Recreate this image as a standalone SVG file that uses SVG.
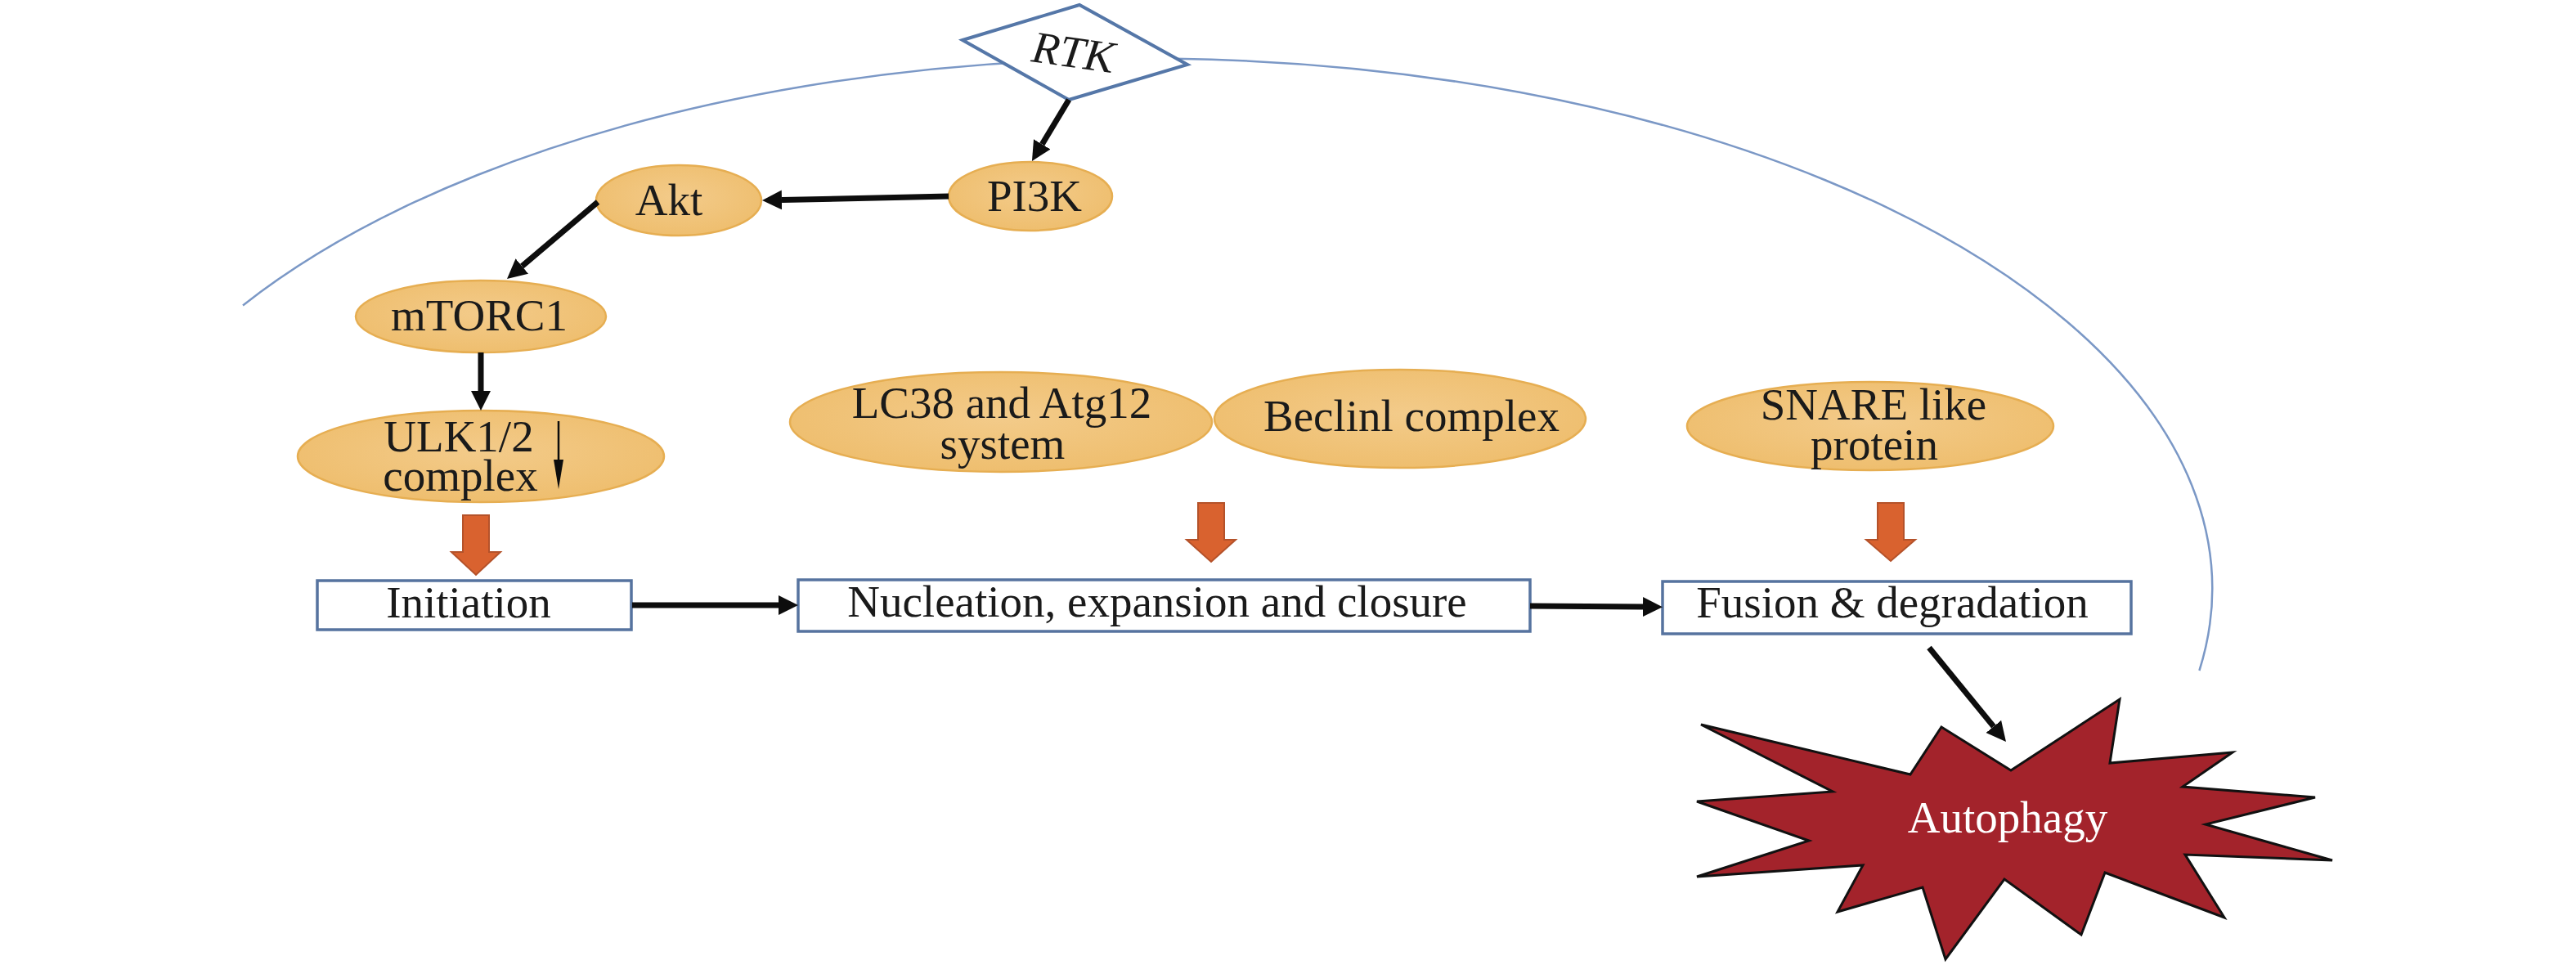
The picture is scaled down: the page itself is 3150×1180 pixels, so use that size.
<svg xmlns="http://www.w3.org/2000/svg" width="3150" height="1180" viewBox="0 0 3150 1180">
<style>
.t{font-family:"Liberation Serif","Times New Roman",serif;font-size:55px;fill:#1a1a1a;text-anchor:middle}
.el{fill:url(#eg);stroke:#E6AE52;stroke-width:2.5}
.box{fill:#fff;stroke:#56739F;stroke-width:3.5}
.con{stroke:#0d0d0d;fill:none;stroke-width:7;marker-end:url(#ah)}
.blk{fill:#D9622F;stroke:#B4522A;stroke-width:2}
</style>
<defs>
<radialGradient id="eg" cx="0.5" cy="0.45" r="0.6">
<stop offset="0" stop-color="#F3CB8A"/>
<stop offset="1" stop-color="#EEBD6C"/>
</radialGradient>
<marker id="ah" markerUnits="userSpaceOnUse" viewBox="0 0 26 26" markerWidth="26" markerHeight="26" refX="0" refY="13" orient="auto">
<path d="M0,1 L24,13 L0,25 Z" fill="#0d0d0d"/>
</marker>
</defs>
<rect width="3150" height="1180" fill="#fff"/>
<path id="membrane" d="M297,373.4 A1305,648 0 0 1 2689.4,820" fill="none" stroke="#7B98C6" stroke-width="2.5"/>
<g id="rtk">
<polygon points="1177,49 1320,6 1452,79 1307,122" fill="#fff" stroke="#5577A8" stroke-width="4"/>
<text class="t" font-style="italic" font-size="52" transform="translate(1310,82) rotate(8)" x="0" y="0">RTK</text>
</g>
<g id="pi3k"><ellipse class="el" cx="1260" cy="240" rx="100" ry="42"/><text class="t" x="1265" y="258">PI3K</text></g>
<g id="akt"><ellipse class="el" cx="830" cy="245" rx="101" ry="43"/><text class="t" x="818" y="263">Akt</text></g>
<g id="mtorc1"><ellipse class="el" cx="588" cy="387" rx="153" ry="44"/><text class="t" x="586" y="404">mTORC1</text></g>
<g id="ulk"><ellipse class="el" cx="588" cy="558" rx="224" ry="56"/><text class="t" x="561" y="552">ULK1/2</text><text class="t" x="563" y="600">complex</text>
<line x1="683" y1="515" x2="683" y2="566" stroke="#0d0d0d" stroke-width="2.5"/><polygon points="677,562 689,562 683,598" fill="#0d0d0d"/></g>
<g id="lc38"><ellipse class="el" cx="1224" cy="516" rx="258" ry="61"/><text class="t" x="1225" y="511">LC38 and Atg12</text><text class="t" x="1226" y="561">system</text></g>
<g id="beclin"><ellipse class="el" cx="1712" cy="512" rx="227" ry="60"/><text class="t" x="1726" y="527">Beclinl complex</text></g>
<g id="snare"><ellipse class="el" cx="2287" cy="521" rx="224" ry="54"/><text class="t" x="2291" y="513">SNARE like</text><text class="t" x="2292" y="562">protein</text></g>
<g id="initiation"><rect class="box" x="388" y="710" width="384" height="60"/><text class="t" x="573" y="755">Initiation</text></g>
<g id="nucleation"><rect class="box" x="976" y="709" width="895" height="63"/><text class="t" x="1415" y="754">Nucleation, expansion and closure</text></g>
<g id="fusion"><rect class="box" x="2033" y="711" width="573" height="64"/><text class="t" x="2314" y="755">Fusion &amp; degradation</text></g>
<g id="autophagy">
<polygon points="2080,886 2336,947 2374,889 2459,942 2592,855 2580,933 2730,920 2669,962 2831,975 2697,1008 2852,1052 2672,1045 2720,1122 2574,1067 2545,1143 2451,1075 2379,1173 2351,1085 2247,1115 2278,1058 2075,1072 2212,1028 2075,980 2241,968" fill="#A3232B" stroke="#111" stroke-width="3" stroke-linejoin="miter"/>
<text class="t" x="2455" y="1018" style="fill:#fff">Autophagy</text>
</g>
<g id="connectors">
<line class="con" x1="1307" y1="122" x2="1274.3" y2="176.4"/>
<line class="con" x1="1160" y1="240" x2="956" y2="244.5"/>
<line class="con" x1="731" y1="247" x2="638.3" y2="325.5"/>
<line class="con" x1="588" y1="431" x2="588" y2="478"/>
<line class="con" x1="773" y1="740" x2="952" y2="740" stroke-width="9"/>
<line class="con" x1="1871" y1="741" x2="2009" y2="742" stroke-width="9"/>
<line class="con" x1="2359" y1="792" x2="2437.8" y2="888.4"/>
<path class="blk" transform="translate(582,630)" d="M-16,0 H16 V45 H30 L0,73 L-30,45 H-16 Z"/>
<path class="blk" transform="translate(1481,615)" d="M-16,0 H16 V45 H30 L0,72 L-30,45 H-16 Z"/>
<path class="blk" transform="translate(2312,615)" d="M-16,0 H16 V45 H30 L0,71 L-30,45 H-16 Z"/>
</g>
</svg>
